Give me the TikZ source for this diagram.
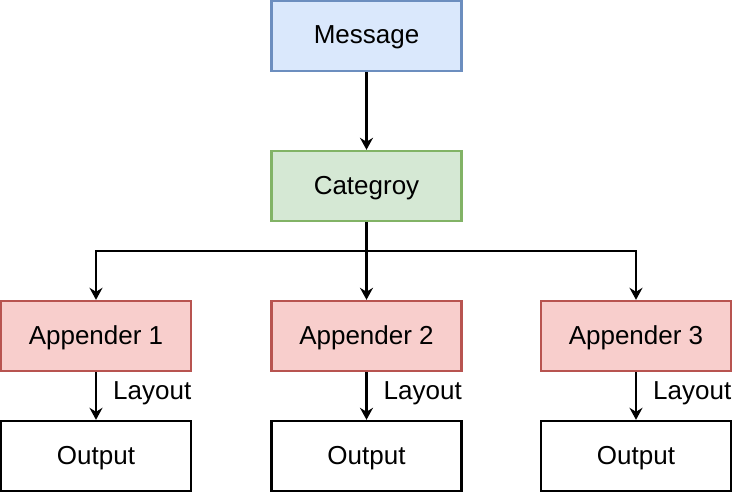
\documentclass[tikz,border=0pt]{standalone}
\usepackage{fontspec}
\setmainfont{Liberation Sans}
\usetikzlibrary{arrows.meta}
\definecolor{msgfill}{HTML}{DAE8FC}
\definecolor{msgline}{HTML}{6C8EBF}
\definecolor{catfill}{HTML}{D5E8D4}
\definecolor{catline}{HTML}{82B366}
\definecolor{appfill}{HTML}{F8CECC}
\definecolor{appline}{HTML}{B85450}
\begin{document}
\begin{tikzpicture}[x=1pt,y=-1pt,>={Stealth[length=12pt,width=13pt,inset=4pt]}]
\tikzset{box/.style={draw,line width=2.4pt,minimum width=190pt,minimum height=70pt,inner sep=0pt,text depth=2pt,font=\fontsize{26}{30}\selectfont},
  flow/.style={->,line width=2.4pt},
  lbl/.style={anchor=west,inner sep=0pt,font=\fontsize{26}{30}\selectfont}}
\useasboundingbox (0,0) rectangle (742,493);
\node[box,fill=msgfill,draw=msgline] (msg) at (366.5,36) {Message};
\node[box,fill=catfill,draw=catline] (cat) at (366.5,186) {Categroy};
\coordinate (split) at (366.5,251);
\foreach \i/\x in {1/96,2/366.5,3/636} {
  \node[box,fill=appfill,draw=appline] (app\i) at (\x,336) {Appender \i};
  \node[box] (out\i) at (\x,456) {Output};
  \draw[flow] (app\i) -- node[lbl,pos=0.45,xshift=16pt] (lay\i) {Layout} (out\i);
}
\draw[flow] (msg) -- (cat);
\draw[line width=2.4pt] (cat) -- (split);
\draw[flow] (split) -| (app1);
\draw[flow] (split) -- (app2);
\draw[flow] (split) -| (app3);
\end{tikzpicture}
\end{document}
